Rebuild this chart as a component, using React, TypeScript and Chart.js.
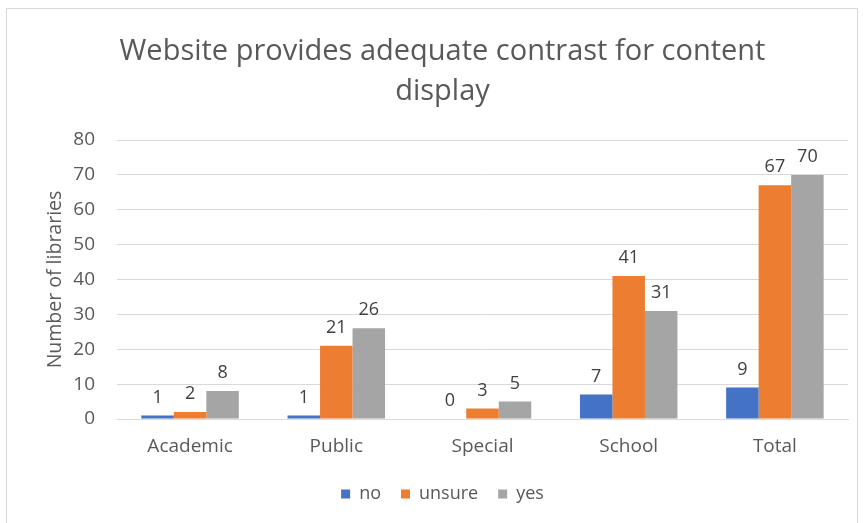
import React, { useEffect, useRef } from "react";
import { Chart, registerables } from "chart.js";

Chart.register(...registerables);

const categories = ["Academic", "Public", "Special", "School", "Total"];
const noValues = [1, 1, 0, 7, 9];
const unsureValues = [2, 21, 3, 41, 67];
const yesValues = [8, 26, 5, 31, 70];
const seriesNames = ["no", "unsure", "yes"];
const titleLines = ["Website provides adequate contrast for content", "display"];
const yAxisTitle = "Number of libraries";

const FONT = "'Open Sans', 'Noto Sans', sans-serif";
const TEXT = "#595959";
const GRID = "#d9d9d9";

const valueLabels = {
  id: "valueLabels",
  afterDatasetsDraw(chart: any) {
    const ctx = chart.ctx;
    ctx.save();
    ctx.font = `18px ${FONT}`;
    ctx.fillStyle = "#404040";
    ctx.textAlign = "center";
    ctx.textBaseline = "bottom";
    chart.data.datasets.forEach((ds: any, i: number) => {
      const meta = chart.getDatasetMeta(i);
      meta.data.forEach((bar: any, j: number) => {
        ctx.fillText(String(ds.data[j]), bar.x, bar.y - 9);
      });
    });
    ctx.restore();
  },
};

const frame = {
  id: "frame",
  beforeDraw(chart: any) {
    const ctx = chart.ctx;
    ctx.save();
    ctx.fillStyle = "#ffffff";
    ctx.fillRect(0, 0, chart.width, chart.height);
    ctx.strokeStyle = GRID;
    ctx.lineWidth = 1;
    ctx.strokeRect(6.5, 8.5, 851, 520);
    ctx.restore();
  },
};

export default function App() {
  const ref = useRef<HTMLCanvasElement | null>(null);
  useEffect(() => {
    document.body.style.margin = "0";
    if (!ref.current) return;
    const chart = new Chart(ref.current, {
      type: "bar",
      data: {
        labels: categories,
        datasets: [
          { label: seriesNames[0], data: noValues, backgroundColor: "#4472C4" },
          { label: seriesNames[1], data: unsureValues, backgroundColor: "#ED7D31" },
          { label: seriesNames[2], data: yesValues, backgroundColor: "#A5A5A5" },
        ],
      },
      options: {
        responsive: false,
        animation: false,
        devicePixelRatio: 1,
        datasets: { bar: { categoryPercentage: 0.667, barPercentage: 1.0 } },
        layout: { padding: { left: 30, right: 10, top: 0, bottom: 10 } },
        plugins: {
          title: {
            display: true,
            text: titleLines,
            color: TEXT,
            font: { family: FONT, size: 29, weight: "normal", lineHeight: 1.38 },
            padding: { top: 32, bottom: 28 },
          },
          legend: {
            position: "bottom",
            labels: {
              color: TEXT,
              font: { family: FONT, size: 18 },
              boxWidth: 9,
              boxHeight: 9,
              padding: 20,
            },
          },
          tooltip: { enabled: false },
        },
        scales: {
          x: {
            grid: { display: false, drawTicks: false },
            border: { display: true, color: GRID },
            ticks: { color: TEXT, font: { family: FONT, size: 19 }, padding: 16 },
            afterFit: (s: any) => {
              s.height = 46;
            },
          },
          y: {
            min: 0,
            max: 80,
            afterFit: (s: any) => {
              s.width = 87;
            },
            ticks: { stepSize: 10, color: TEXT, font: { family: FONT, size: 19 }, padding: 22 },
            grid: { color: GRID, drawTicks: false },
            border: { display: false },
            title: {
              display: true,
              text: yAxisTitle,
              color: TEXT,
              font: { family: FONT, size: 19.5 },
              padding: { top: 14, bottom: 4 },
            },
          },
          ySpacer: {
            type: "linear",
            position: "right",
            display: true,
            grid: { display: false, drawTicks: false },
            border: { display: false },
            ticks: { display: false },
            afterFit: (s: any) => {
              s.width = 7;
            },
          },
        },
      },
      plugins: [frame, valueLabels],
    });
    return () => chart.destroy();
  }, []);
  return (
    <div style={{ width: 865, height: 523, position: "relative" }}>
      <canvas ref={ref} width={865} height={523} />
    </div>
  );
}
